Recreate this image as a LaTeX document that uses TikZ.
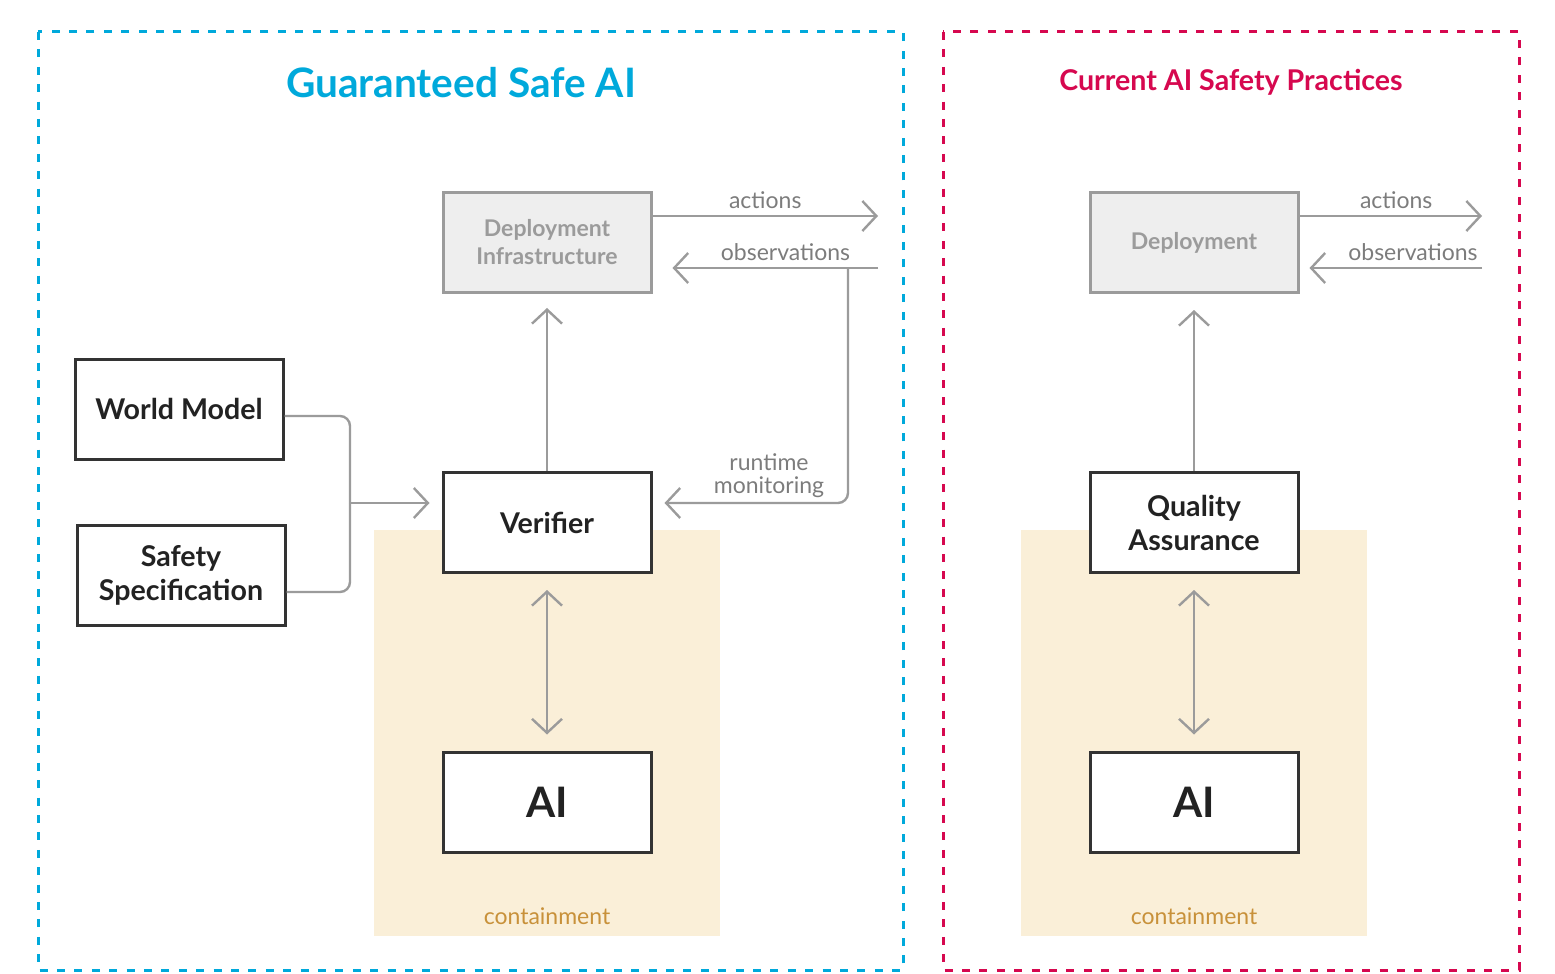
\documentclass[tikz,border=0pt]{standalone}
\usepackage{fontspec}
\setmainfont{Lato}
\usetikzlibrary{arrows.meta}
\definecolor{gsblue}{HTML}{00A9DB}
\definecolor{crim}{HTML}{D6084F}
\definecolor{lgray}{HTML}{9B9B9B}
\definecolor{dbox}{HTML}{333333}
\definecolor{txt}{HTML}{222222}
\definecolor{depfill}{HTML}{EEEEEE}
\definecolor{contfill}{HTML}{FAEFD8}
\definecolor{conttxt}{HTML}{C8913A}
\tikzset{
  box/.style={draw=dbox, line width=1.5pt, fill=white, minimum width=104pt, minimum height=50pt, inner sep=0pt, align=center, text=txt, font=\fontsize{14.3}{17}\selectfont\bfseries},
  aibox/.style={box, font=\fontsize{21}{24}\selectfont\bfseries},
  depbox/.style={draw=lgray, line width=1.5pt, fill=depfill, minimum width=104pt, minimum height=50pt, inner sep=0pt, align=center, text=lgray, font=\fontsize{11.5}{14}\selectfont\bfseries},
  conn/.style={draw=lgray, line width=1.2pt, rounded corners=5pt},
  arr/.style={conn, -{Straight Barb[length=7pt,width=15pt,line width=1.2pt]}},
  darr/.style={conn, {Straight Barb[length=7pt,width=15pt,line width=1.2pt]}-{Straight Barb[length=7pt,width=15pt,line width=1.2pt]}},
  lbl/.style={text=lgray!80!black, font=\fontsize{11.5}{12}\selectfont, inner sep=1pt, align=center},
  frame/.style={line width=1.5pt, dash pattern=on 4pt off 4.7pt},
  cont/.style={fill=contfill, draw=none},
  conttext/.style={text=conttxt, font=\fontsize{11.5}{12}\selectfont}
}
\begin{document}
\begin{tikzpicture}[x=0.5pt,y=-0.5pt]
\useasboundingbox (0,0) rectangle (1555,974);
% frames
\draw[frame, draw=gsblue] (38,32) rectangle (903,970);
\draw[frame, draw=crim] (943,32) rectangle (1519,970);
\node[text=gsblue, font=\fontsize{20.3}{24}\selectfont\bfseries] (t1) at (461,83) {Guaranteed Safe AI};
\node[text=crim, font=\fontsize{14.3}{16}\selectfont\bfseries] (t2) at (1231,82) {Current AI Safety Practices};
% containment areas
\fill[cont] (374,530) rectangle (720,936);
\fill[cont] (1021,530) rectangle (1367,936);
\node[conttext] (c1) at (547,916) {containment};
\node[conttext] (c2) at (1194,916) {containment};
% left nodes
\node[depbox] (dep) at (547,242.5) {Deployment\\Infrastructure};
\node[box] (wm) at (179,409) {World Model};
\node[box] (ss) at (181,575.5) {Safety\\Specification};
\node[box] (ver) at (547,522.5) {Verifier};
\node[aibox] (ai) at (547,802) {AI};
\coordinate (actL) at (878,216);
\coordinate (obsL) at (878,268);
\coordinate (join) at (350,503);
% right nodes
\node[depbox] (dep2) at (1194,242.5) {Deployment};
\node[box] (qa) at (1194,522.5) {Quality\\Assurance};
\node[aibox] (ai2) at (1194,802) {AI};
\coordinate (actR) at (1482,216);
\coordinate (obsR) at (1482,268);
% left connectors
\draw[arr] (dep.east |- actL) -- (actL) node[lbl, pos=0.5, above=2pt] {actions};
\draw[arr] (obsL) -- ([xshift=10pt]dep.east |- obsL) node[lbl, pos=0.45, above=2pt] {observations};
\draw[arr] (848,268) -- (848,503) -- ([xshift=6pt]ver.east |- 0,503);
\node[lbl, font=\fontsize{11.5}{11.5}\selectfont] (rm) at (769,476) {runtime\\monitoring};
\draw[arr] (ver.north) -- ([yshift=-7pt]dep.south);
\draw[darr] ([yshift=-8pt]ver.south) -- ([yshift=8pt]ai.north);
\draw[conn] (wm.east |- 0,416) -- (350,416) -- (350,503);
\draw[conn] (ss.east |- 0,592) -- (350,592) -- (350,503);
\draw[arr] (join) -- ([xshift=-6pt]ver.west |- join);
% right connectors
\draw[arr] (dep2.east |- actR) -- (actR) node[lbl, pos=0.53, above=2pt] {actions};
\draw[arr] (obsR) -- ([xshift=5pt]dep2.east |- obsR) node[lbl, pos=0.4, above=2pt] {observations};
\draw[arr] (qa.north) -- ([yshift=-8pt]dep2.south);
\draw[darr] ([yshift=-8pt]qa.south) -- ([yshift=8pt]ai2.north);
\end{tikzpicture}
\end{document}
